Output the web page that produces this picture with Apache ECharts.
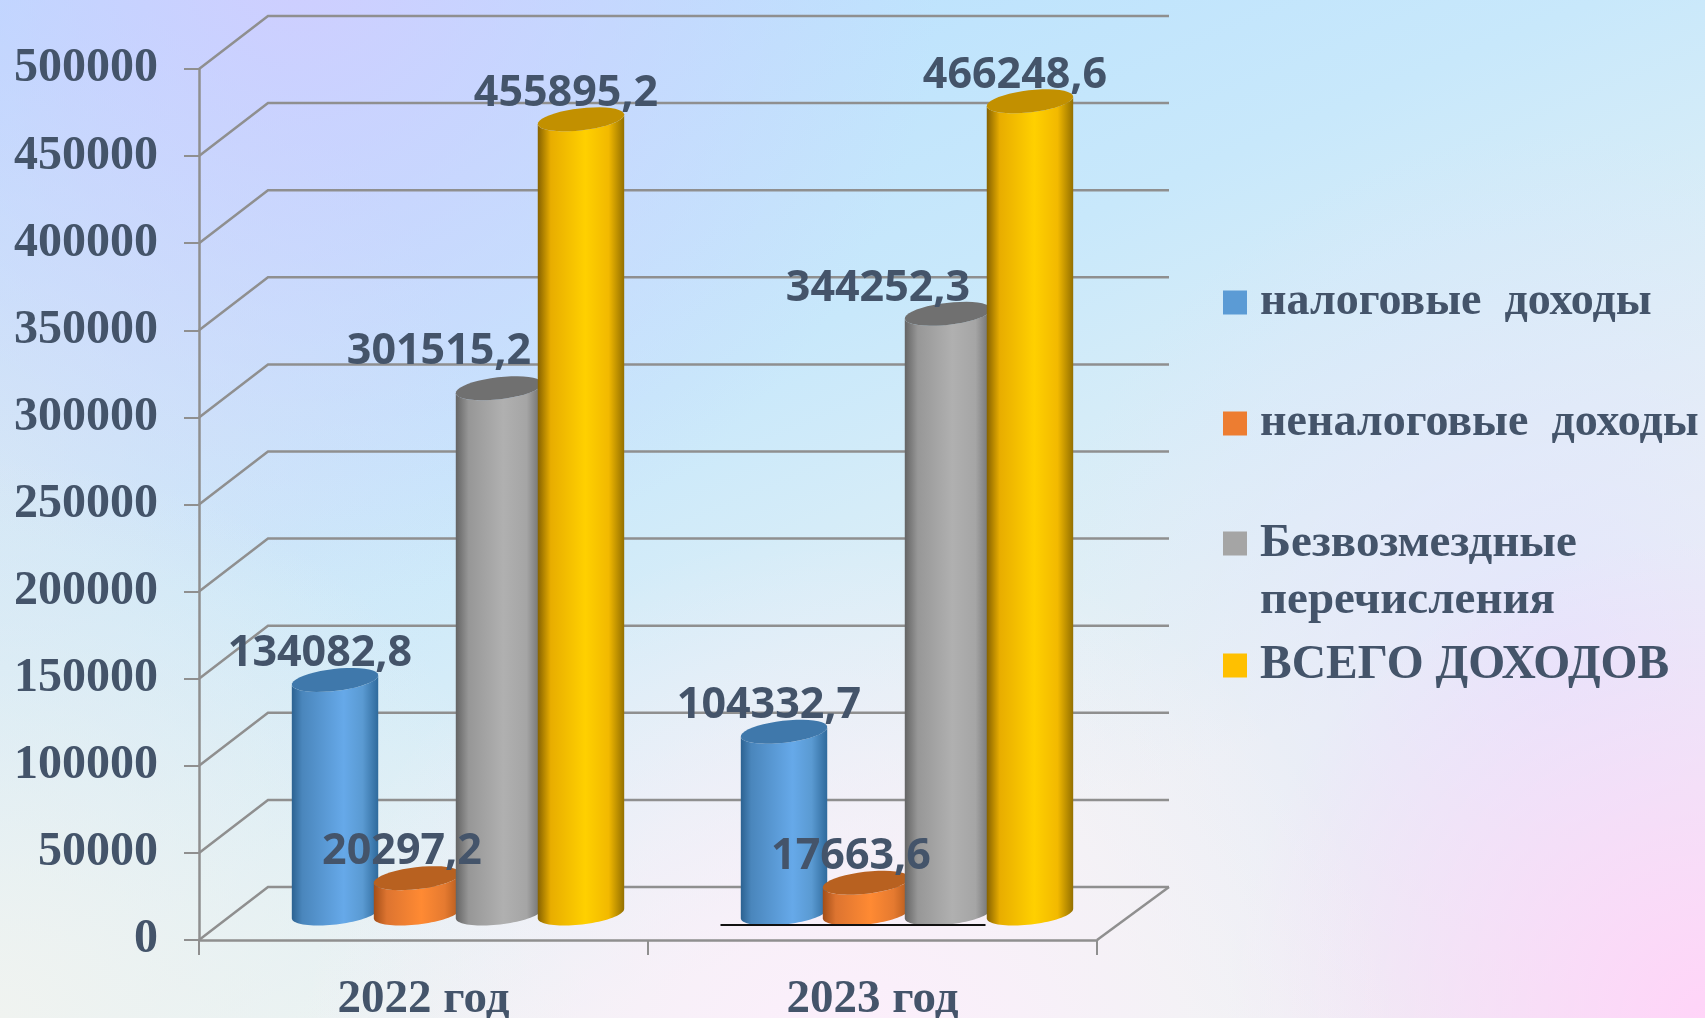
<!DOCTYPE html>
<html>
<head>
<meta charset="utf-8">
<style>html,body{margin:0;padding:0;width:1705px;height:1018px;overflow:hidden}#c{width:1705px;height:1018px}</style>
<script src="https://cdn.jsdelivr.net/npm/echarts@6/dist/echarts.min.js"></script>
</head>
<body>
<div id="c"></div>
<script>
const categories = ['2022 год', '2023 год'];
const seriesNames = ['налоговые  доходы', 'неналоговые  доходы', 'Безвозмездные перечисления', 'ВСЕГО ДОХОДОВ'];
const taxIncome = [134082.8, 104332.7];
const nonTaxIncome = [20297.2, 17663.6];
const transfers = [301515.2, 344252.3];
const totalIncome = [455895.2, 466248.6];
const tickValues = [0, 50000, 100000, 150000, 200000, 250000, 300000, 350000, 400000, 450000, 500000];

const allValues = [taxIncome, nonTaxIncome, transfers, totalIncome];
const legendTops = [269, 390, 453, 632];
const legendSizes = [46, 46, 47, 47.5];
const legendFlat = ['#5b9bd5', '#ed7d31', '#a5a5a5', '#ffc000'];
const bodyStops = [
  [[0,'#2c6291'],[0.12,'#4a86bc'],[0.6,'#66a9e9'],[0.82,'#5a9ad2'],[1,'#2f6a9c']],
  [[0,'#a34e18'],[0.15,'#dd7430'],[0.55,'#ff8a33'],[0.82,'#e57a30'],[1,'#b35a1d']],
  [[0,'#646464'],[0.15,'#979797'],[0.55,'#b0b0b0'],[0.82,'#a5a5a5'],[1,'#6b6b6b']],
  [[0,'#866200'],[0.15,'#e8ad00'],[0.55,'#ffd000'],[0.82,'#f2b900'],[1,'#947000']]
];
const capColors = ['#3f78ab', '#b86120', '#707070', '#c29000'];
const labelNudge = {'2-0': [-60, -37], '2-1': [-70, -25]};

const DEPTH_X = 69, DEPTH_Y = 53, BACK_EXTRA = 3;
const RX = 43.5, RY = 11, TILT = -6.6 * Math.PI / 180;
const TEXT = '#44546a', WALL = '#8f8f8f';

function ell(cx, cy, t) {
  const c = Math.cos(t), s = Math.sin(t), ct = Math.cos(TILT), st = Math.sin(TILT);
  return [cx + RX * c * ct - RY * s * st, cy + RX * c * st + RY * s * ct];
}
function arc(cx, cy, from, to) {
  const pts = [], n = 40;
  for (let i = 0; i <= n; i++) pts.push(ell(cx, cy, from + (to - from) * i / n));
  return pts;
}
function wallItem(params, api) {
  const p = api.coord([0, api.value(0)]);
  const right = api.coord([1, api.value(0)]);
  const catW = api.size([1, 0])[0];
  const xr = right[0] + catW / 2;
  const x0 = p[0] - catW / 2;
  const kids = [{type: 'polyline', shape: {points: [[x0, p[1]], [x0 + DEPTH_X, p[1] - DEPTH_Y], [xr + DEPTH_X + BACK_EXTRA, p[1] - DEPTH_Y]]},
    style: {stroke: WALL, lineWidth: 2.5, fill: 'none'}, silent: true}];
  if (api.value(0) === 0) {
    kids.push({type: 'line', shape: {x1: xr, y1: p[1], x2: xr + DEPTH_X + BACK_EXTRA, y2: p[1] - DEPTH_Y},
      style: {stroke: WALL, lineWidth: 2.5}, silent: true});
    kids.push({type: 'line', shape: {x1: right[0] - 152, y1: p[1] - 15, x2: right[0] + 113, y2: p[1] - 15},
      style: {stroke: '#111111', lineWidth: 2}, silent: true, z2: 50});
  }
  return {type: 'group', children: kids};
}
function barItem(s) {
  return function (params, api) {
    const cat = api.value(0), v = api.value(1);
    const base = api.coord([cat, 0]);
    const top = api.coord([cat, v]);
    const catW = api.size([1, 0])[0];
    const step = catW * 0.1826;
    const cx = base[0] + DEPTH_X / 2 + (s - 1.5) * step;
    const by = base[1] - DEPTH_Y / 2;
    const ty = top[1] - DEPTH_Y / 2;
    const body = arc(cx, by, Math.PI, 0).concat(arc(cx, ty, 0, Math.PI));
    const n = labelNudge[s + '-' + cat] || [-15, -26];
    return {type: 'group', children: [
      {type: 'polygon', z2: s + 1, shape: {points: body}, silent: true, style: {fill: new echarts.graphic.LinearGradient(0, 0, 1, 0,
        bodyStops[s].map(x => ({offset: x[0], color: x[1]})))}},
      {type: 'polygon', z2: s + 1, shape: {points: arc(cx, ty, 0, Math.PI * 2)}, silent: true, style: {fill: capColors[s]}},
      {type: 'text', z2: 100, silent: true, style: {x: cx + n[0], y: ty + n[1], text: v.toFixed(1).replace('.', ','),
        fill: TEXT, font: 'bold 43px "Open Sans"', align: 'center', verticalAlign: 'middle'}}
    ]};
  };
}
const bg = [
  {c: [0, 470], r: 480, col: '216,232,245', a: 0.85},
  {c: [300, -40], r: 640, col: '208,205,255', a: 0.95},
  {c: [1560, 650], r: 520, col: '225,225,255', a: 0.75},
  {c: [1705, 1018], r: 480, col: '255,212,248', a: 1},
  {c: [0, 1018], r: 560, col: '240,243,240', a: 1},
  {c: [850, 1090], r: 560, col: '253,238,252', a: 1}
];
const chart = echarts.init(document.getElementById('c'), null, {renderer: 'canvas'});
const series = [{
  name: 'walls', type: 'custom', coordinateSystem: 'cartesian2d', clip: false, silent: true, z: 3,
  data: tickValues.map(v => [v]), encode: {x: [], y: 0}, renderItem: wallItem
}];
allValues.forEach((vals, s) => series.push({
  name: seriesNames[s], type: 'custom', coordinateSystem: 'cartesian2d', clip: false, z: 3,
  itemStyle: {color: legendFlat[s]}, silent: true,
  encode: {x: 0, y: 1}, data: vals.map((v, i) => [i, v]), renderItem: barItem(s)
}));
chart.setOption({
  animation: false,
  backgroundColor: new echarts.graphic.LinearGradient(0.1, 0, 0.35, 1, [
    {offset: 0, color: '#b4deff'}, {offset: 0.5, color: '#c8e8fb'}, {offset: 1, color: '#eef4f2'}]),
  graphic: bg.map(b => ({
    type: 'rect', z: -10, silent: true, shape: {x: 0, y: 0, width: 1705, height: 1018},
    style: {fill: new echarts.graphic.RadialGradient(b.c[0], b.c[1], b.r, [
      {offset: 0, color: 'rgba(' + b.col + ',' + b.a + ')'}, {offset: 1, color: 'rgba(' + b.col + ',0)'}], true)}
  })),
  legend: seriesNames.map((name, i) => ({
    data: [name], left: 1218, top: legendTops[i], itemWidth: 24, itemHeight: 24, icon: 'rect', selectedMode: false,
    formatter: n => n.replace('Безвозмездные перечисления', '\nБезвозмездные\nперечисления'),
    textStyle: {fontFamily: 'Liberation Serif', fontWeight: 'bold', fontSize: legendSizes[i], color: TEXT, lineHeight: 57,
      padding: [0, 0, 0, 8]}
  })),
  grid: {left: 199, right: 608, top: 69, bottom: 78, containLabel: false, outerBoundsMode: 'none'},
  xAxis: {type: 'category', data: categories, boundaryGap: true,
    axisLine: {lineStyle: {color: WALL, width: 2.5}},
    axisTick: {show: true, length: 15, lineStyle: {color: WALL, width: 2}, alignWithLabel: false},
    axisLabel: {color: TEXT, fontFamily: 'Liberation Serif', fontWeight: 'bold', fontSize: 47, margin: 36}},
  yAxis: {type: 'value', min: 0, max: 500000, interval: 50000, splitLine: {show: false},
    axisLine: {show: true, lineStyle: {color: WALL, width: 2.5}},
    axisTick: {show: true, length: 15, lineStyle: {color: WALL, width: 2}},
    axisLabel: {color: TEXT, fontFamily: 'Liberation Serif', fontWeight: 'bold', fontSize: 48, margin: 41,
      formatter: v => String(v)}},
  series
});
</script>
</body>
</html>
